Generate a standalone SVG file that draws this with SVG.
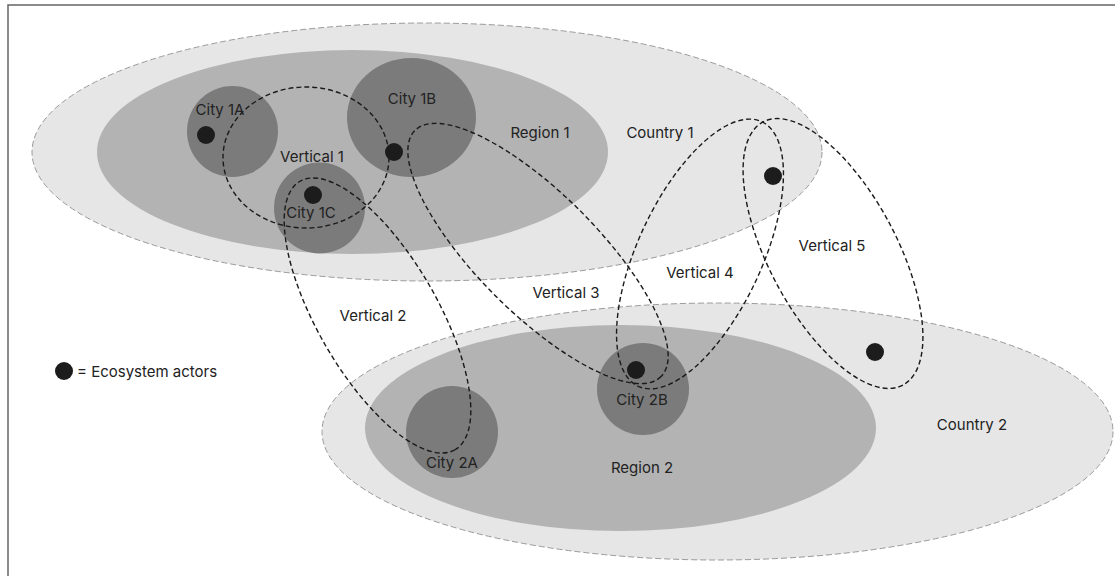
<svg xmlns="http://www.w3.org/2000/svg" width="1115" height="576" viewBox="0 0 1115 576">
<style>
.country{fill:#e6e6e6;stroke:#9a9a9a;stroke-width:1;stroke-dasharray:6 3}
.region{fill:#b3b3b3}
.city{fill:#7b7b7b}
.actor{fill:#1c1c1c}
.vert{fill:none;stroke:#1a1a1a;stroke-width:1.4;stroke-dasharray:5 3}
text{font-family:Inter,"Liberation Sans",sans-serif;font-size:15px;fill:#222;text-anchor:middle;dominant-baseline:central}
</style>
<rect width="1115" height="576" fill="#fff"/>
<path d="M8,576 V5 H1115" fill="none" stroke="#666" stroke-width="1.5"/>
<g id="country1"><ellipse class="country" cx="427" cy="152" rx="395" ry="129"/></g>
<g id="country2"><ellipse class="country" cx="717.5" cy="431.5" rx="395.5" ry="128.5"/></g>
<g id="region1"><ellipse class="region" cx="352.5" cy="152" rx="255.5" ry="102"/></g>
<g id="region2"><ellipse class="region" cx="620.5" cy="428" rx="255.5" ry="103"/></g>
<g id="city1a"><circle class="city" cx="232.5" cy="131.5" r="45.5"/></g>
<g id="city1b"><ellipse class="city" cx="411.5" cy="117.5" rx="64.5" ry="59.5"/></g>
<g id="city1c"><circle class="city" cx="319.5" cy="208" r="45.5"/></g>
<g id="city2a"><circle class="city" cx="452" cy="432" r="46"/></g>
<g id="city2b"><circle class="city" cx="643" cy="389" r="46"/></g>
<g id="verticals">
<g id="vertical1"><ellipse class="vert" cx="306" cy="157.5" rx="83" ry="70.5"/></g>
<g id="vertical2"><ellipse class="vert" transform="translate(377.5 315.5) rotate(60)" rx="155" ry="60"/></g>
<g id="vertical3"><ellipse class="vert" transform="translate(538 253.5) rotate(45)" rx="174" ry="60"/></g>
<g id="vertical4"><ellipse class="vert" transform="translate(700 254) rotate(-65)" rx="146" ry="62"/></g>
<g id="vertical5"><ellipse class="vert" transform="translate(833 253.5) rotate(62)" rx="149" ry="64"/></g>
</g>
<g id="actors">
<circle class="actor" cx="206" cy="135" r="9"/>
<circle class="actor" cx="394" cy="152" r="9"/>
<circle class="actor" cx="313" cy="195" r="9"/>
<circle class="actor" cx="773" cy="176" r="9"/>
<circle class="actor" cx="875" cy="352" r="9"/>
<circle class="actor" cx="636" cy="370" r="9"/>
</g>
<g id="labels">
<text x="220" y="109">City 1A</text>
<text x="412" y="98">City 1B</text>
<text x="312" y="156">Vertical 1</text>
<text x="311" y="212">City 1C</text>
<text x="540" y="132">Region 1</text>
<text x="660" y="132">Country 1</text>
<text x="373" y="315">Vertical 2</text>
<text x="566" y="292">Vertical 3</text>
<text x="700" y="272">Vertical 4</text>
<text x="832" y="245">Vertical 5</text>
<text x="452" y="462">City 2A</text>
<text x="642" y="399">City 2B</text>
<text x="642" y="467">Region 2</text>
<text x="972" y="424">Country 2</text>
</g>
<g id="legend">
<circle class="actor" cx="64" cy="371" r="9"/>
<text x="77" y="371" style="text-anchor:start">= Ecosystem actors</text>
</g>
</svg>
